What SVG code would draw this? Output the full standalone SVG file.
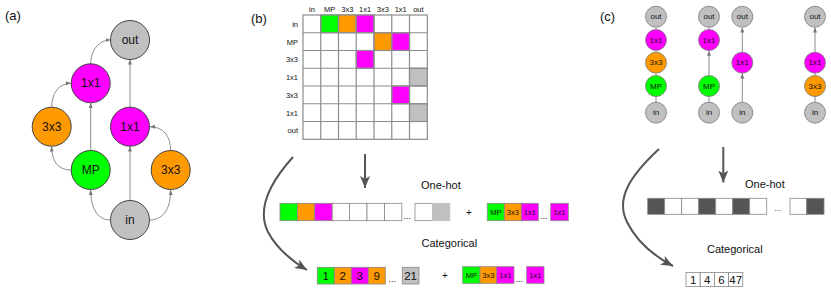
<svg xmlns="http://www.w3.org/2000/svg" width="831" height="289" viewBox="0 0 831 289">
<style>
text{font-family:"Liberation Sans",Arial,sans-serif;fill:#111}
.lbl{font-size:13px}
.na{stroke:#444;stroke-width:1}
.g{fill:#00ff00}.o{fill:#ff9900}.m{fill:#ff00ff}.gr{fill:#c0c0c0}.w{fill:#fff}.dk{fill:#555}
.ta{font-size:12px;text-anchor:middle;dominant-baseline:central}
.tc{font-size:8px;text-anchor:middle;dominant-baseline:central}
.nc{stroke:#777;stroke-width:0.8}
.thin{fill:none;stroke:#808080;stroke-width:0.9}
.thick{fill:none;stroke:#555;stroke-width:2}
.cell{stroke:#8c8c8c;stroke-width:1.2}
.ml{font-size:7.5px;fill:#222}
.seq{stroke:#888;stroke-width:0.8}
.st{font-size:7.5px;text-anchor:middle;dominant-baseline:central}
.num{font-size:11.5px;text-anchor:middle;dominant-baseline:central}
.cap{font-size:11px}
</style>
<defs>
<marker id="ah" markerUnits="userSpaceOnUse" markerWidth="6" markerHeight="6" refX="5" refY="2" orient="auto"><path d="M0,0 L5,2 L0,4 z" fill="#777"/></marker>
<marker id="big" markerUnits="userSpaceOnUse" markerWidth="14" markerHeight="12" refX="12" refY="5" orient="auto"><path d="M0,0 L12,5 L0,10 L3,5 z" fill="#555"/></marker>
</defs>

<!-- Panel (a) -->
<text class="lbl" x="5" y="20">(a)</text>
<g id="a-connectors">
<path class="thin" d="M110.5,220 C96,220 90.7,206 90.7,190" marker-end="url(#ah)"/>
<path class="thin" d="M149.5,220 C165,220 170.7,206 170.7,190" marker-end="url(#ah)"/>
<path class="thin" d="M170.7,150.5 C170.7,136 163,126.7 150,126.7" marker-end="url(#ah)"/>
<path class="thin" d="M71,170 C57,170 51.7,160 51.7,146.5" marker-end="url(#ah)"/>
<path class="thin" d="M51.7,107 C51.7,93 59,83.3 71,83.3" marker-end="url(#ah)"/>
<path class="thin" d="M90.7,64 C90.7,50 99,40 110.5,40" marker-end="url(#ah)"/>
<path class="thin" d="M90.7,150.5 L90.7,103" marker-end="url(#ah)"/>
<path class="thin" d="M130,200.5 L130,146.5" marker-end="url(#ah)"/>
<path class="thin" d="M130,107 L130,59.5" marker-end="url(#ah)"/>
</g>
<g id="a-out"><circle class="na gr" cx="130" cy="40" r="19.5"/><text class="ta" x="130" y="40">out</text></g>
<g id="a-1x1L"><circle class="na m" cx="90.7" cy="83.3" r="19.5"/><text class="ta" x="90.7" y="83.3">1x1</text></g>
<g id="a-3x3L"><circle class="na o" cx="51.7" cy="126.7" r="19.5"/><text class="ta" x="51.7" y="126.7">3x3</text></g>
<g id="a-1x1R"><circle class="na m" cx="130" cy="126.7" r="19.5"/><text class="ta" x="130" y="126.7">1x1</text></g>
<g id="a-MP"><circle class="na g" cx="90.7" cy="170" r="19.5"/><text class="ta" x="90.7" y="170">MP</text></g>
<g id="a-3x3R"><circle class="na o" cx="170.7" cy="170" r="19.5"/><text class="ta" x="170.7" y="170">3x3</text></g>
<g id="a-in"><circle class="na gr" cx="130" cy="220" r="19.5"/><text class="ta" x="130" y="220">in</text></g>

<!-- Panel (b) -->
<text class="lbl" x="251" y="23">(b)</text>
<g id="b-matrix">
<g class="ml" text-anchor="middle">
<text x="311.9" y="12">in</text><text x="329.6" y="12">MP</text><text x="347.4" y="12">3x3</text><text x="365.1" y="12">1x1</text><text x="382.9" y="12">3x3</text><text x="400.7" y="12">1x1</text><text x="418.4" y="12">out</text>
</g>
<g class="ml" text-anchor="end">
<text x="298" y="26.8">in</text><text x="298" y="44.6">MP</text><text x="298" y="62.3">3x3</text><text x="298" y="80.1">1x1</text><text x="298" y="97.8">3x3</text><text x="298" y="115.6">1x1</text><text x="298" y="133.3">out</text>
</g>
<g class="cell">
<rect class="w" x="303" y="15" width="124.3" height="124.3"/>
<rect class="g" x="320.75" y="15" width="17.75" height="17.75"/>
<rect class="o" x="338.5" y="15" width="17.75" height="17.75"/>
<rect class="m" x="356.25" y="15" width="17.75" height="17.75"/>
<rect class="o" x="374" y="32.75" width="17.75" height="17.75"/>
<rect class="m" x="391.75" y="32.75" width="17.75" height="17.75"/>
<rect class="m" x="356.25" y="50.5" width="17.75" height="17.75"/>
<rect class="gr" x="409.5" y="68.25" width="17.75" height="17.75"/>
<rect class="m" x="391.75" y="86" width="17.75" height="17.75"/>
<rect class="gr" x="409.5" y="103.75" width="17.75" height="17.75"/>
<path fill="none" d="M320.75,15V139.3M338.5,15V139.3M356.25,15V139.3M374,15V139.3M391.75,15V139.3M409.5,15V139.3M303,32.75H427.3M303,50.5H427.3M303,68.25H427.3M303,86H427.3M303,103.75H427.3M303,121.5H427.3"/>
</g>
</g>
<g id="b-connectors">
<path class="thick" d="M365,154 L365,188" marker-end="url(#big)"/>
<path class="thick" d="M293,157 C265,188 258,212 268,232 C277,249 292,261 307,270" marker-end="url(#big)"/>
</g>
<text class="cap" x="421" y="189">One-hot</text>
<g id="b-onehot" class="seq">
<rect class="g" x="280" y="203.3" width="17.4" height="17.4"/>
<rect class="o" x="297.4" y="203.3" width="17.4" height="17.4"/>
<rect class="m" x="314.8" y="203.3" width="17.4" height="17.4"/>
<rect class="w" x="332.2" y="203.3" width="17.4" height="17.4"/>
<rect class="w" x="349.6" y="203.3" width="17.4" height="17.4"/>
<rect class="w" x="367" y="203.3" width="17.4" height="17.4"/>
<rect class="w" x="384.4" y="203.3" width="17.4" height="17.4"/>
<rect class="w" x="415" y="203.3" width="17.4" height="17.4"/>
<rect class="gr" x="432.4" y="203.3" width="17.4" height="17.4" stroke="#c0c0c0"/>
</g>
<text x="403.5" y="219" font-size="9">...</text>
<text x="466" y="216" font-size="10">+</text>
<g id="b-seq1">
<g class="seq">
<rect class="g" x="487.3" y="203.3" width="17" height="17.4"/>
<rect class="o" x="504.3" y="203.3" width="17" height="17.4"/>
<rect class="m" x="521.3" y="203.3" width="17" height="17.4"/>
<rect class="m" x="550.7" y="203.3" width="17.6" height="17.4"/>
</g>
<text class="st" x="495.8" y="212">MP</text><text class="st" x="512.8" y="212">3x3</text><text class="st" x="529.8" y="212">1x1</text><text class="st" x="559.5" y="212">1x1</text>
<text x="540" y="219" font-size="9">...</text>
</g>
<text class="cap" x="421.5" y="247">Categorical</text>
<g id="b-cat">
<g class="seq">
<rect class="g" x="317.3" y="267.3" width="17" height="16.7"/>
<rect class="o" x="334.3" y="267.3" width="17" height="16.7"/>
<rect class="m" x="351.3" y="267.3" width="17" height="16.7"/>
<rect class="o" x="368.3" y="267.3" width="17" height="16.7"/>
<rect class="gr" x="402.3" y="267.3" width="16.7" height="16.7"/>
</g>
<text class="num" x="325.8" y="276">1</text><text class="num" x="342.8" y="276">2</text><text class="num" x="359.8" y="276">3</text><text class="num" x="376.8" y="276">9</text><text class="num" x="410.6" y="276">21</text>
<text x="388.5" y="282" font-size="9">...</text>
</g>
<text x="442" y="279" font-size="10">+</text>
<g id="b-seq2">
<g class="seq">
<rect class="g" x="462.7" y="266.7" width="17.3" height="16.6"/>
<rect class="o" x="480" y="266.7" width="16.7" height="16.6"/>
<rect class="m" x="496.7" y="266.7" width="17.3" height="16.6"/>
<rect class="m" x="526.7" y="266.7" width="17.3" height="16.6"/>
</g>
<text class="st" x="471.3" y="275">MP</text><text class="st" x="488.3" y="275">3x3</text><text class="st" x="505.3" y="275">1x1</text><text class="st" x="535.3" y="275">1x1</text>
<text x="515.5" y="282" font-size="9">...</text>
</g>

<!-- Panel (c) -->
<text class="lbl" x="600" y="21">(c)</text>
<g id="c-connectors">
<path class="thin" d="M656,27.2 V29.5 M656,50.5 V52.2 M656,73.2 V75.5 M656,96.5 V102.2"/>
<path class="thin" d="M709,27.2 V29.5 M709,96.5 V102.2"/>
<path class="thin" d="M709,75.5 V50.8" marker-end="url(#ah)"/>
<path class="thin" d="M742.3,102.2 V73.5" marker-end="url(#ah)"/>
<path class="thin" d="M742.3,52.2 V27.5" marker-end="url(#ah)"/>
<path class="thin" d="M815,52.2 V27.5" marker-end="url(#ah)"/>
<path class="thin" d="M815,73.2 V75.5 M815,96.5 V102.2"/>
</g>
<g id="c1-out"><circle class="nc gr" cx="656" cy="16.7" r="10.5"/><text class="tc" x="656" y="16.7">out</text></g>
<g id="c1-1x1"><circle class="nc m" cx="656" cy="40" r="10.5"/><text class="tc" x="656" y="40">1x1</text></g>
<g id="c1-3x3"><circle class="nc o" cx="656" cy="62.7" r="10.5"/><text class="tc" x="656" y="62.7">3x3</text></g>
<g id="c1-MP"><circle class="nc g" cx="656" cy="86" r="10.5"/><text class="tc" x="656" y="86">MP</text></g>
<g id="c1-in"><circle class="nc gr" cx="656" cy="112.7" r="10.5"/><text class="tc" x="656" y="112.7">in</text></g>
<g id="c2-out"><circle class="nc gr" cx="709" cy="16.7" r="10.5"/><text class="tc" x="709" y="16.7">out</text></g>
<g id="c2-1x1"><circle class="nc m" cx="709" cy="40" r="10.5"/><text class="tc" x="709" y="40">1x1</text></g>
<g id="c2-MP"><circle class="nc g" cx="709" cy="86" r="10.5"/><text class="tc" x="709" y="86">MP</text></g>
<g id="c2-in"><circle class="nc gr" cx="709" cy="112.7" r="10.5"/><text class="tc" x="709" y="112.7">in</text></g>
<g id="c3-out"><circle class="nc gr" cx="742.3" cy="16.7" r="10.5"/><text class="tc" x="742.3" y="16.7">out</text></g>
<g id="c3-1x1"><circle class="nc m" cx="742.3" cy="62.7" r="10.5"/><text class="tc" x="742.3" y="62.7">1x1</text></g>
<g id="c3-in"><circle class="nc gr" cx="742.3" cy="112.7" r="10.5"/><text class="tc" x="742.3" y="112.7">in</text></g>
<g id="c4-out"><circle class="nc gr" cx="815" cy="16.7" r="10.5"/><text class="tc" x="815" y="16.7">out</text></g>
<g id="c4-1x1"><circle class="nc m" cx="815" cy="62.7" r="10.5"/><text class="tc" x="815" y="62.7">1x1</text></g>
<g id="c4-3x3"><circle class="nc o" cx="815" cy="86" r="10.5"/><text class="tc" x="815" y="86">3x3</text></g>
<g id="c4-in"><circle class="nc gr" cx="815" cy="112.7" r="10.5"/><text class="tc" x="815" y="112.7">in</text></g>

<g id="c-arrows">
<path class="thick" d="M723.3,147 L723.3,182.5" marker-end="url(#big)"/>
<path class="thick" d="M659,149 C631,175 615,198 627,222 C637,242 654,256 673,266" marker-end="url(#big)"/>
</g>
<text class="cap" x="745" y="188">One-hot</text>
<g id="c-onehot" class="seq">
<rect class="dk" x="647.7" y="198.3" width="17" height="16"/>
<rect class="w" x="664.7" y="198.3" width="17" height="16"/>
<rect class="w" x="681.7" y="198.3" width="17" height="16"/>
<rect class="dk" x="698.7" y="198.3" width="17" height="16"/>
<rect class="w" x="715.7" y="198.3" width="17" height="16"/>
<rect class="dk" x="732.7" y="198.3" width="17" height="16"/>
<rect class="w" x="749.7" y="198.3" width="17" height="16"/>
<rect class="w" x="790" y="198.3" width="16.7" height="16"/>
<rect class="dk" x="806.7" y="198.3" width="17.3" height="16"/>
</g>
<text x="774.5" y="211" font-size="8">...</text>
<text class="cap" x="707" y="253">Categorical</text>
<g id="c-cat">
<g class="seq" fill="#fff">
<rect x="686" y="272.5" width="14.2" height="14"/>
<rect x="700.2" y="272.5" width="14.2" height="14"/>
<rect x="714.4" y="272.5" width="14.2" height="14"/>
<rect x="728.6" y="272.5" width="14.2" height="14"/>
</g>
<text class="num" font-size="9.5" x="693.1" y="279.5">1</text><text class="num" font-size="9.5" x="707.3" y="279.5">4</text><text class="num" font-size="9.5" x="721.5" y="279.5">6</text><text class="num" font-size="9.5" x="735.7" y="279.5">47</text>
</g>
</svg>
